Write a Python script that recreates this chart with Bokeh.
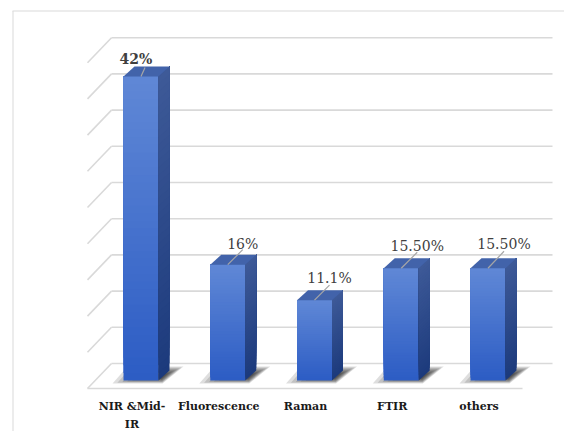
import numpy as np
from bokeh.plotting import figure
from bokeh.models import Range1d, ColumnDataSource
from bokeh.core.properties import value, field
from bokeh.embed import file_html
from bokeh.resources import INLINE

# ---- data -------------------------------------------------------------
categories = ["NIR &Mid-\nIR", "Fluorescence", "Raman", "FTIR", "others"]
shares = [42.0, 16.0, 11.1, 15.5, 15.5]
share_labels = ["42%", "16%", "11.1%", "15.50%", "15.50%"]
grid_values = [0, 5, 10, 15, 20, 25, 30, 35, 40, 45]

# ---- page geometry ----------------------------------------------------
W, H = 564, 431
KX = 86.75      # pixels per category step
KY = 7.24       # pixels per percentage point
X0 = 140.5      # pixel x of the first category
Y0 = 380.0      # pixel y of the bars' front baseline
SERIF = "DejaVu Serif"


def dx(px):
    return px / KX


def dy(px):
    return px / KY


def to_x(px):
    return (px - X0) / KX


def to_y(py):
    return (Y0 - py) / KY


def lerp(c0, c1, t):
    return "#%02x%02x%02x" % tuple(int(round(a + (b - a) * t)) for a, b in zip(c0, c1))


p = figure(width=W, height=H,
           x_range=Range1d(to_x(0), to_x(W)),
           y_range=Range1d(to_y(H), to_y(0)),
           output_backend="svg", toolbar_location=None,
           x_axis_location=None, y_axis_location=None,
           min_border=0)
p.grid.visible = False
p.outline_line_color = None
p.background_fill_color = "white"
p.border_fill_color = "white"

GRID = "#d9d9d9"
xs = list(range(len(categories)))
first, last = xs[0], xs[-1]

# chart-area border
p.segment(x0=[to_x(12), to_x(12.5)], y0=[to_y(10.5), to_y(10.5)],
          x1=[to_x(W), to_x(12.5)], y1=[to_y(10.5), to_y(H)],
          line_color=GRID, line_width=1)

# back wall gridlines and the side-wall diagonals
RISE = dy(17)                      # back wall sits behind the bars
wall_l = first - dx(29.5)
wall_r = last + dx(64.5)
gy = [v + RISE for v in grid_values]
p.segment(x0=[wall_l] * len(gy), y0=gy, x1=[wall_r] * len(gy), y1=gy,
          line_color=GRID, line_width=1.6)
p.segment(x0=[wall_l] * len(gy), y0=gy,
          x1=[wall_l - dx(24)] * len(gy), y1=[g - dy(25) for g in gy],
          line_color=GRID, line_width=1.6)
# front edge of the floor
p.segment(x0=[first - dx(53.5)], y0=[-dy(8)], x1=[last + dx(34.5)], y1=[-dy(8)],
          line_color=GRID, line_width=1.6)

# ---- bars ---------------------------------------------------------------
HW = dx(17.5)          # half width of the front face
DDX, DDY = dx(11), dy(10)   # depth of each bar

# soft floor shadows
for i in xs:
    L, R = i - HW, i + HW
    outer = [(L - dx(11), -dy(3)), (R + dx(4), -dy(3)),
             (R + dx(25), dy(14)), (L + dx(4), dy(14))]
    cx, cy = R + dx(3), dy(4)
    for s in np.linspace(1.0, 0.3, 8):
        p.patch([cx + (px_ - cx) * s for px_, _ in outer],
                [cy + (py_ - cy) * s for _, py_ in outer],
                fill_color="black", fill_alpha=0.13, line_color=None)

FRONT_BOT, FRONT_TOP = (44, 92, 196), (96, 136, 214)
SIDE_BOT, SIDE_TOP = (28, 58, 124), (62, 90, 152)
TOP_FACE = "#4263aa"
N = 40

for i, v in zip(xs, shares):
    L, R = i - HW, i + HW
    ys = [v * k / N for k in range(N)]
    tcol = [(k + 0.5) / N for k in range(N)]
    # front face, built bottom-up so every slice overlaps the next
    p.quad(left=[L] * N, right=[R] * N, bottom=ys, top=[v] * N,
           fill_color=[lerp(FRONT_BOT, FRONT_TOP, t) for t in tcol],
           line_color=None)
    # right side face
    p.patches(xs=[[R, R + DDX, R + DDX, R] for _ in ys],
              ys=[[y0, y0 + DDY, v + DDY, v] for y0 in ys],
              fill_color=[lerp(SIDE_BOT, SIDE_TOP, t) for t in tcol],
              line_color=None)
    # top face
    p.patch([L, R, R + DDX, L + DDX], [v, v, v + DDY, v + DDY],
            fill_color=TOP_FACE, line_color=None)

# ---- value labels with leader lines --------------------------------------
lead_dx = [4, 15, 15, 16, 16]
lead_dy = [9, 15, 15, 16, 17]
lab_dx = [-5, 15, 15, 16, 16]
lab_dy = [17, 21, 22, 22, 24]
p.segment(x0=[i for i in xs], y0=shares,
          x1=[i + dx(a) for i, a in zip(xs, lead_dx)],
          y1=[v + dy(b) for v, b in zip(shares, lead_dy)],
          line_color="#a6a6a6", line_width=1.2)

vsrc = ColumnDataSource(dict(
    x=[i + dx(a) for i, a in zip(xs, lab_dx)],
    y=[v + dy(b) for v, b in zip(shares, lab_dy)],
    text=share_labels,
    style=["bold", "normal", "normal", "normal", "normal"],
))
p.text(x="x", y="y", text="text", source=vsrc,
       text_font=value(SERIF), text_font_style=field("style"),
       text_font_size="14px", text_color="#404040",
       text_align="center", text_baseline="alphabetic")

# ---- category labels -----------------------------------------------------
csrc = ColumnDataSource(dict(x=[i - dx(9) for i in xs],
                             y=[-dy(19)] * len(xs), text=categories))
p.text(x="x", y="y", text="text", source=csrc,
       text_font=value(SERIF), text_font_style="bold",
       text_font_size="11px", text_color="#1a1a1a",
       text_align="center", text_baseline="top", text_line_height=1.45)

open("out.html", "w").write(file_html(p, INLINE))
